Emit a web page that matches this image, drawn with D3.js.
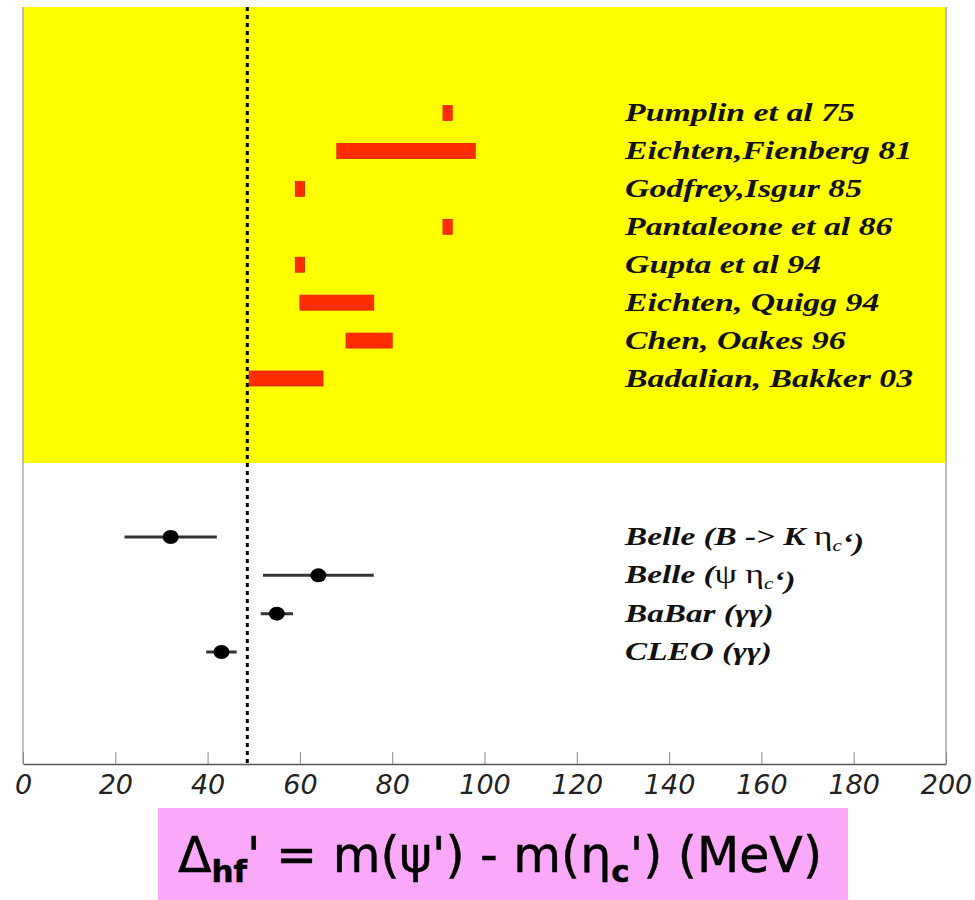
<!DOCTYPE html>
<html><head><meta charset="utf-8">
<script src="https://cdn.jsdelivr.net/npm/d3@7"></script>
<style>body{margin:0;background:#fff;overflow:hidden}</style></head>
<body>
<svg id="c" width="975" height="900"></svg>
<script>
// ---- data ----
const theoryNames = ["Pumplin et al 75","Eichten,Fienberg 81","Godfrey,Isgur 85","Pantaleone et al 86","Gupta et al 94","Eichten, Quigg 94","Chen, Oakes 96","Badalian, Bakker 03"];
const theoryLow  = [91, 68, 59, 91, 59, 60, 70, 49];
const theoryHigh = [93, 98, 61, 93, 61, 76, 80, 65];
const expNames   = ["Belle (B -> K η_c‘)", "Belle (ψ η_c‘)", "BaBar (γγ)", "CLEO (γγ)"];
const expValues  = [32, 64, 55, 43];
const expErrLow  = [10, 12, 3.5, 3.3];
const expErrHigh = [10, 12, 3.5, 3.3];
const refValue   = 48.6;
const xTicks     = [0,20,40,60,80,100,120,140,160,180,200];
const xDomain    = [0, 200];

// ---- layout ----
const svg = d3.select("#c");
const pLeft = 23, pRight = 946, pTop = 7, yellowBottom = 463, axisY = 764;
const x = d3.scaleLinear().domain(xDomain).range([pLeft, pRight]);
const yT = d3.scaleLinear().domain([0, theoryNames.length - 1]).range([113, 378.5]);
const yE = d3.scaleLinear().domain([0, expNames.length - 1]).range([537, 652]);

// backgrounds
svg.append("rect").attr("x", pLeft).attr("y", pTop).attr("width", pRight - pLeft).attr("height", yellowBottom - pTop).attr("fill", "#ffff00");
svg.append("line").attr("x1", pLeft).attr("x2", pLeft).attr("y1", pTop).attr("y2", axisY).attr("stroke", "#999").attr("stroke-width", 1.2);
svg.append("line").attr("x1", pRight).attr("x2", pRight).attr("y1", pTop).attr("y2", axisY).attr("stroke", "#bbb").attr("stroke-width", 2);

// theory bars
svg.append("g").selectAll("rect").data(theoryNames).join("rect")
  .attr("x", (d, i) => x(theoryLow[i]))
  .attr("width", (d, i) => x(theoryHigh[i]) - x(theoryLow[i]))
  .attr("y", (d, i) => yT(i) - 7.5)
  .attr("height", 15)
  .attr("fill", "#ff2d00")
  .attr("stroke", "#e01e00").attr("stroke-width", 0.8);

// theory labels
svg.append("g").selectAll("text").data(theoryNames).join("text")
  .attr("transform", (d, i) => `translate(625,${yT(i) + 8}) scale(1.3,1)`)
  .attr("font-family", "Liberation Serif, Times New Roman, serif")
  .attr("font-weight", "bold").attr("font-style", "italic")
  .attr("font-size", 26).attr("fill", "#111")
  .text(d => d);

// reference dotted line
svg.append("line").attr("x1", x(refValue)).attr("x2", x(refValue)).attr("y1", pTop).attr("y2", axisY)
  .attr("stroke", "#000").attr("stroke-width", 3).attr("stroke-dasharray", "4,4");

// experimental points
const eg = svg.append("g");
eg.selectAll("line").data(expNames).join("line")
  .attr("x1", (d, i) => x(expValues[i] - expErrLow[i]))
  .attr("x2", (d, i) => x(expValues[i] + expErrHigh[i]))
  .attr("y1", (d, i) => yE(i)).attr("y2", (d, i) => yE(i))
  .attr("stroke", "#333").attr("stroke-width", 3);
eg.selectAll("ellipse").data(expNames).join("ellipse")
  .attr("cx", (d, i) => x(expValues[i]))
  .attr("cy", (d, i) => yE(i))
  .attr("rx", 8).attr("ry", 7).attr("fill", "#000");

// experiment labels
const lg = svg.append("g");
expNames.forEach((name, i) => {
  const t = lg.append("text")
    .attr("transform", `translate(625,${yE(i) + 8}) scale(1.33,1)`)
    .attr("font-family", "Liberation Serif, Times New Roman, serif")
    .attr("font-size", 25).attr("fill", "#111");
  const parts = name.split(/(η_c|ψ|γγ)/).filter(s => s.length);
  parts.forEach(p => {
    if (p === "η_c") {
      t.append("tspan").attr("font-style", "normal").attr("font-weight", "normal").attr("font-size", 27).text(" η");
      t.append("tspan").attr("font-style", "italic").attr("font-size", 16).attr("dy", 6).text("c");
      t.append("tspan").attr("dy", -6).attr("font-size", 25).text("");
    } else if (p === "ψ") {
      t.append("tspan").attr("font-style", "normal").attr("font-weight", "normal").attr("font-size", 27).text("ψ");
    } else if (p === "γγ") {
      t.append("tspan").attr("font-style", "italic").attr("font-weight", "bold").text("γγ");
    } else {
      t.append("tspan").attr("font-style", "italic").attr("font-weight", "bold").text(p);
    }
  });
});

// x axis
const ax = svg.append("g").attr("transform", `translate(0,${axisY})`)
  .call(d3.axisBottom(x).tickValues(xTicks).tickSizeInner(-12).tickSizeOuter(0).tickPadding(11).tickFormat(d3.format("d")));
ax.select(".domain").attr("stroke", "#555").attr("stroke-width", 1.5);
ax.selectAll(".tick line").attr("stroke", "#888").attr("stroke-width", 1);
ax.selectAll(".tick text")
  .attr("font-family", "DejaVu Sans, sans-serif").attr("font-style", "italic")
  .attr("font-size", 27).attr("fill", "#222");

// axis title box
svg.append("rect").attr("x", 158).attr("y", 808).attr("width", 690).attr("height", 92).attr("fill", "#faa9f9");
const tt = svg.append("text").attr("x", 500).attr("y", 872).attr("text-anchor", "middle")
  .attr("font-family", "DejaVu Sans, sans-serif").attr("font-size", 49).attr("fill", "#000")
  .attr("stroke", "#000").attr("stroke-width", 0.5);
tt.append("tspan").text("Δ");
tt.append("tspan").attr("font-size", 31).attr("font-weight", "bold").attr("dy", 10).text("hf");
tt.append("tspan").attr("dy", -10).text("' = m(ψ') - m(η");
tt.append("tspan").attr("font-size", 31).attr("font-weight", "bold").attr("dy", 10).text("c");
tt.append("tspan").attr("dy", -10).text("') (MeV)");
</script>
</body></html>
